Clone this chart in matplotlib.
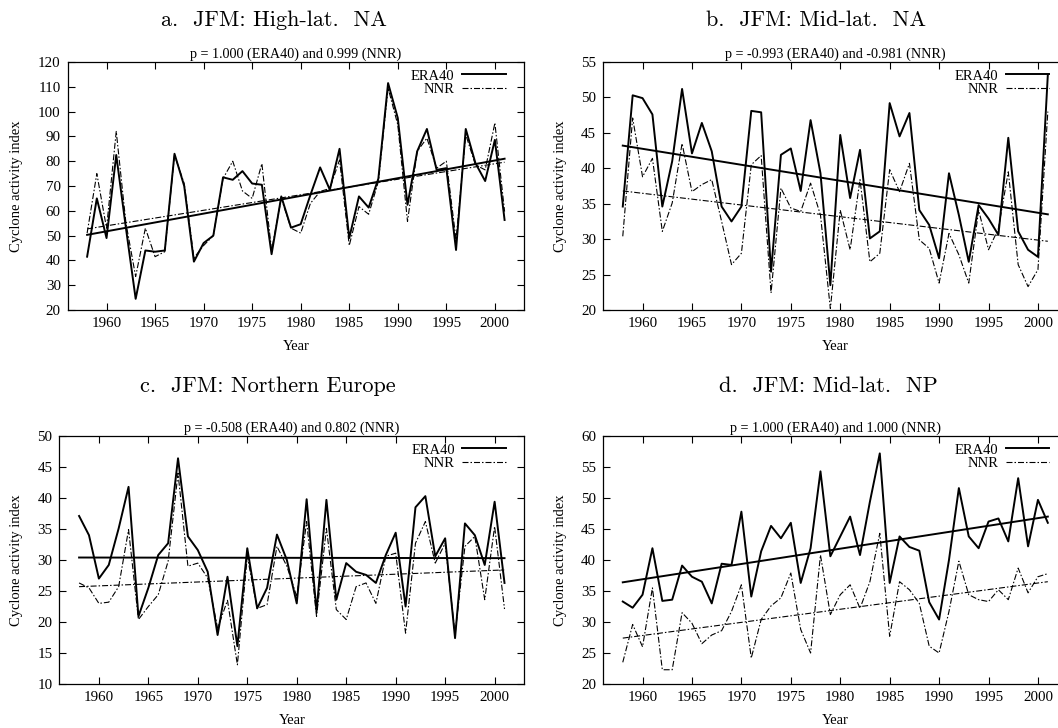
import matplotlib
matplotlib.use("Agg")
import matplotlib.pyplot as plt

years = list(range(1958, 2002))

# a. High-lat. NA
a_era = [41.5, 65, 49, 82.5, 53, 24.5, 44, 43.5, 44, 83, 70, 39.5, 47, 50, 73.5, 72.5, 76, 71, 70.5, 42.5,
         65.8, 53.2, 54.6, 66.4, 77.5, 68.5, 85, 49, 65.8, 61.3, 73, 111.5, 97.4, 62.4, 84, 93, 76.5, 77.2,
         44.2, 93, 79.2, 72, 88.6, 56.3]
a_nnr = [51, 75, 53, 92, 55, 33.5, 53, 41.5, 43.5, 82.5, 71, 41, 46, 50, 73, 80, 68, 65, 79, 44,
         65, 53, 51, 63, 67.8, 69, 80.5, 46, 61.7, 58.6, 71.8, 109.5, 94.7, 55.7, 84, 89.3, 77.2, 80,
         48.3, 90.7, 78.5, 76.5, 95.4, 59.7]
# b. Mid-lat. NA
b_era = [34.6, 50.3, 49.9, 47.6, 34.6, 41, 51.2, 42.1, 46.4, 42.4, 34.6, 32.5, 34.6, 48.1, 47.9, 25.4,
         41.9, 42.8, 36.8, 46.8, 39.3, 23.5, 44.7, 35.8, 42.6, 30.1, 31.1, 49.2, 44.5, 47.8, 34.1, 32,
         27.3, 39.3, 33.4, 26.8, 34.8, 32.9, 30.6, 44.3, 31.1, 28.5, 27.5, 53.2]
b_nnr = [30.4, 47.1, 38.8, 41.4, 31.1, 35.1, 43.5, 36.7, 37.7, 38.4, 32.5, 26.4, 28, 40.5, 41.8, 22.4,
         37.2, 34.4, 33.9, 37.9, 33.4, 20.2, 34.1, 28.5, 38.4, 26.8, 28, 39.8, 36.7, 40.7, 29.9, 28.7,
         23.8, 30.8, 27.8, 23.8, 34.1, 28.5, 31.5, 39.5, 26.4, 23.3, 25.7, 48]
# c. Northern Europe
c_era = [37.1, 34, 27, 29.2, 35.1, 41.8, 20.9, 25.5, 30.8, 32.7, 46.4, 33.8, 31.6, 28.1, 17.9, 27.3,
         16.1, 31.9, 22.2, 25.5, 34.1, 30, 23, 39.8, 21.7, 39.7, 23.6, 29.5, 28.1, 27.6, 26.3, 30.8,
         34.4, 22.5, 38.5, 40.3, 30.6, 33.5, 17.4, 35.9, 34, 29.2, 39.4, 26.3]
c_nnr = [26.3, 25.5, 23, 23.2, 25.7, 34.9, 20.4, 22.5, 24.4, 29.8, 44, 29, 29.5, 27.1, 19, 23.5,
         13.1, 30.6, 22.2, 22.8, 32.2, 29, 24.1, 36.2, 20.9, 35.1, 22, 20.4, 25.7, 26.3, 23, 30.6,
         31.1, 18.2, 32.7, 36.2, 29.5, 32.7, 18, 32.2, 33.8, 23.6, 35.4, 22.1]
# d. Mid-lat. NP
d_era = [33.3, 32.3, 34.4, 41.9, 33.4, 33.6, 39.1, 37.3, 36.5, 33, 39.4, 39.2, 47.8, 34.1, 41.4, 45.5,
         43.5, 46, 36.3, 41.9, 54.3, 40.6, 43.8, 47, 40.8, 49.4, 57.2, 36.3, 43.8, 42.1, 41.5, 33.2,
         30.4, 40, 51.6, 43.8, 41.9, 46.2, 46.7, 43, 53.2, 42.2, 49.7, 46]
d_nnr = [23.5, 29.6, 26, 35.5, 22.3, 22.3, 31.5, 29.8, 26.5, 27.9, 28.6, 31.7, 36, 24.2, 30.4, 32.6,
         33.9, 37.9, 28.8, 25, 40.8, 31.2, 34.4, 36, 32.2, 36.5, 44.3, 27.7, 36.5, 35.2, 33, 26.1,
         25, 31.7, 39.8, 34.4, 33.6, 33.3, 35.2, 33.6, 38.7, 34.7, 37.3, 37.8]

# linear trend end points (1958, 2001)
trend_years = [1958, 2001]
a_trend = ([50.3, 81.0], [52.7, 79.6])
b_trend = ([43.2, 33.5], [36.8, 29.7])
c_trend = ([30.4, 30.3], [25.7, 28.4])
d_trend = ([36.4, 47.0], [27.4, 36.5])

titles = ["a.  JFM: High-lat.  NA", "b.  JFM: Mid-lat.  NA",
          "c.  JFM: Northern Europe", "d.  JFM: Mid-lat.  NP"]
subtitles = ["p = 1.000 (ERA40) and 0.999 (NNR)", "p = -0.993 (ERA40) and -0.981 (NNR)",
             "p = -0.508 (ERA40) and 0.802 (NNR)", "p = 1.000 (ERA40) and 1.000 (NNR)"]
yranges = [(20, 120, 10), (20, 55, 5), (10, 50, 5), (20, 60, 5)]

W, H = 1058, 728
plt.rcParams["font.family"] = ["Liberation Serif", "DejaVu Serif"]

fig = plt.figure(figsize=(W / 100, H / 100), dpi=100)

# axes boxes in pixels: left, top, right, bottom
boxes = [(67.7, 62, 524, 310), (603, 62, 1067.6, 310),
         (59.3, 436, 524.3, 684), (603, 436, 1067.6, 684)]
ylab_x = [23, 567.3, 23, 567.3]
title_y = [20, 20, 386, 386]
title_x = [274, 816, 268, 828]

nnr_ls = (0, (5.4, 1.8, 1.35, 1.8))
panels = [(a_era, a_nnr, a_trend), (b_era, b_nnr, b_trend),
          (c_era, c_nnr, c_trend), (d_era, d_nnr, d_trend)]

for i, (era, nnr, trend) in enumerate(panels):
    l, t, r, b = boxes[i]
    ax = fig.add_axes([l / W, 1 - b / H, (r - l) / W, (b - t) / H])
    ax.plot(years, era, color="black", lw=1.4, label="ERA40")
    ax.plot(years, nnr, color="black", lw=0.8, ls=nnr_ls, label="NNR")
    ax.plot(trend_years, trend[0], color="black", lw=1.4)
    ax.plot(trend_years, trend[1], color="black", lw=0.8, ls=nnr_ls)
    ax.set_xlim(1956, 2003)
    y0, y1, ys = yranges[i]
    ax.set_ylim(y0, y1)
    ax.set_yticks(range(y0, y1 + 1, ys))
    ax.set_xticks(range(1960, 2001, 5))
    ax.tick_params(direction="in", top=True, right=True, labelsize=10.8, length=5, width=0.8)
    ax.tick_params(axis="x", pad=5)
    ax.tick_params(axis="y", pad=5)
    for s in ax.spines.values():
        s.set_linewidth(0.9)
    ax.set_xlabel("Year", fontsize=10.5)
    ax.xaxis.set_label_coords(0.5, -30 / (b - t))
    ax.set_ylabel("Cyclone activity index", fontsize=10.5)
    ax.yaxis.set_label_coords((ylab_x[i] - l) / (r - l), 0.5)
    ax.set_title(subtitles[i], fontsize=10.2, pad=3)
    ax.legend(loc="upper right", bbox_to_anchor=(1 - 11 / (r - l), 1), frameon=False,
              markerfirst=False, fontsize=10.5, handlelength=3.0, handletextpad=0.5,
              labelspacing=0.0, borderaxespad=0.3, borderpad=0.2)
    fig.text(title_x[i] / W, 1 - title_y[i] / H, titles[i], family="cmr10",
             fontsize=16, ha="center", va="center")

fig.savefig("out.png", dpi=100)
